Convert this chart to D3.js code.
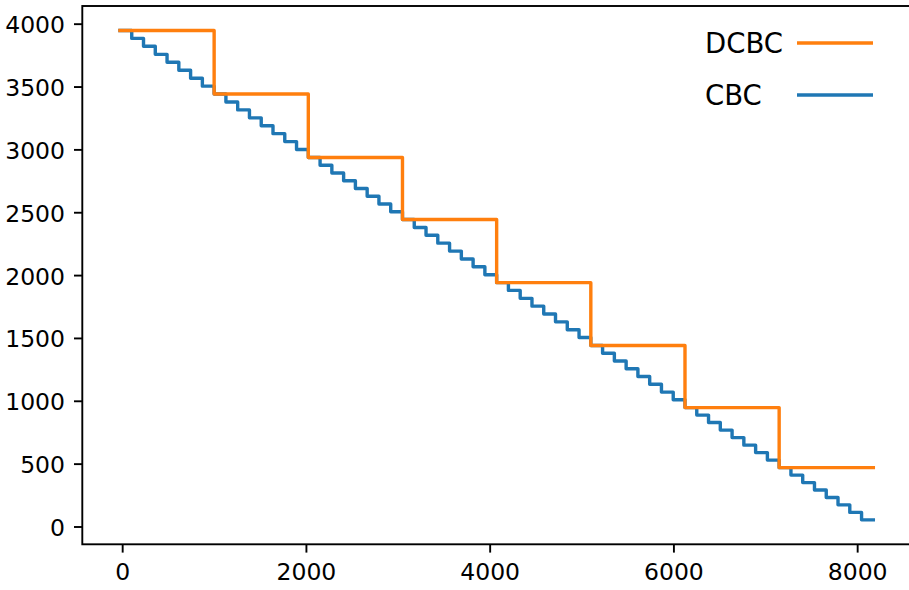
<!DOCTYPE html>
<html>
<head>
<meta charset="utf-8">
<script src="https://cdn.jsdelivr.net/npm/d3@7"></script>
<style>
  html, body { margin: 0; padding: 0; background: #fff; }
  svg { display: block; }
  text { font-family: "DejaVu Sans", sans-serif; fill: #000; }
</style>
</head>
<body>
<svg id="chart" width="909" height="590"></svg>
<script>
// Series names, in legend order
const seriesNames = ["DCBC", "CBC"];

// DCBC: one level per block; block edges on the x axis
const dcbcEdges = [-24, 1001, 2026, 3051, 4076, 5101, 6126, 7151, 8176];
const dcbcValues = [3946, 3440, 2936, 2442, 1940, 1440, 946, 468];

// CBC: eight finer levels inside each DCBC block (64 in total)
const cbcValues = [
  3946, 3883, 3820, 3756, 3693, 3630, 3566, 3503,
  3440, 3377, 3314, 3251, 3188, 3125, 3062, 2999,
  2936, 2874, 2812, 2751, 2689, 2627, 2565, 2504,
  2442, 2379, 2317, 2254, 2191, 2128, 2066, 2003,
  1940, 1878, 1815, 1753, 1690, 1628, 1565, 1503,
  1440, 1378, 1316, 1255, 1193, 1131, 1069, 1008,
  946, 886, 827, 767, 707, 647, 588, 528,
  468, 409, 349, 290, 231, 172, 112, 53
];
const cbcPerBlock = 8;

// Axis ticks
const xTicks = [0, 2000, 4000, 6000, 8000];
const yTicks = [0, 500, 1000, 1500, 2000, 2500, 3000, 3500, 4000];

// Colours
const colors = { DCBC: "#ff7f0e", CBC: "#1f77b4" };

// ---- layout ----
const plot = { left: 82.3, right: 911, top: 6, bottom: 544.3 };
const lineW = 3.4, spineW = 1.9, tickLen = 8.3;

// matplotlib-style 5% padding around the data
const xMin = dcbcEdges[0], xMax = dcbcEdges[dcbcEdges.length - 1];
const yMin = d3.min(cbcValues), yMax = d3.max(dcbcValues.concat(cbcValues));
const xPad = (xMax - xMin) * 0.05, yPad = (yMax - yMin) * 0.05;

const x = d3.scaleLinear().domain([xMin - xPad, xMax + xPad]).range([plot.left, plot.right]);
const y = d3.scaleLinear().domain([yMin - yPad, yMax + yPad]).range([plot.bottom, plot.top]);

const svg = d3.select("#chart");

// step points: each level starts at its left edge, last level held to the end
function stepPoints(edges, values) {
  const pts = values.map((v, i) => [edges[i], v]);
  pts.push([edges[edges.length - 1], values[values.length - 1]]);
  return pts;
}

// CBC edges: each DCBC block split into equal sub-blocks
const cbcEdges = [];
for (let b = 0; b < dcbcValues.length; b++) {
  const sub = d3.scaleLinear().domain([0, cbcPerBlock]).range([dcbcEdges[b], dcbcEdges[b + 1]]);
  d3.range(cbcPerBlock).forEach(k => cbcEdges.push(sub(k)));
}
cbcEdges.push(xMax);

const line = d3.line().x(d => x(d[0])).y(d => y(d[1])).curve(d3.curveStepAfter);

const clip = svg.append("clipPath").attr("id", "plotclip")
  .append("rect").attr("x", plot.left).attr("y", plot.top)
  .attr("width", plot.right - plot.left).attr("height", plot.bottom - plot.top);

const lines = svg.append("g").attr("clip-path", "url(#plotclip)");
lines.append("path")
  .attr("d", line(stepPoints(cbcEdges, cbcValues)))
  .attr("fill", "none").attr("stroke", colors.CBC).attr("stroke-width", lineW)
  .attr("stroke-linejoin", "round").attr("stroke-linecap", "square");
lines.append("path")
  .attr("d", line(stepPoints(dcbcEdges, dcbcValues)))
  .attr("fill", "none").attr("stroke", colors.DCBC).attr("stroke-width", lineW)
  .attr("stroke-linejoin", "round").attr("stroke-linecap", "square");

// ---- axes ----
const xAxis = d3.axisBottom(x).tickValues(xTicks).tickSize(tickLen).tickPadding(9).tickFormat(d3.format("d"));
const yAxis = d3.axisLeft(y).tickValues(yTicks).tickSize(tickLen).tickPadding(9).tickFormat(d3.format("d"));

const gx = svg.append("g").attr("transform", `translate(0,${plot.bottom})`).call(xAxis);
const gy = svg.append("g").attr("transform", `translate(${plot.left},0)`).call(yAxis);

[gx, gy].forEach(g => {
  g.select(".domain").remove();
  g.selectAll(".tick line").attr("stroke", "#000").attr("stroke-width", spineW);
  g.selectAll(".tick text").style("font-family", "DejaVu Sans").attr("font-size", 23.5).attr("fill", "#000");
});
gx.selectAll(".tick text").attr("dy", "0.78em");
gy.selectAll(".tick text").attr("dy", "0.38em");

// spines
svg.append("rect")
  .attr("x", plot.left).attr("y", plot.top)
  .attr("width", plot.right - plot.left).attr("height", plot.bottom - plot.top)
  .attr("fill", "none").attr("stroke", "#000").attr("stroke-width", spineW);

// ---- legend (label first, then handle) ----
const legend = svg.append("g");
const legendRows = [
  { name: seriesNames[0], cy: 43 },
  { name: seriesNames[1], cy: 95 }
];
legendRows.forEach(r => {
  legend.append("text")
    .attr("x", 705).attr("y", r.cy).attr("dy", "0.37em")
    .attr("font-size", 27.5)
    .text(r.name);
  legend.append("line")
    .attr("x1", 797).attr("x2", 873).attr("y1", r.cy).attr("y2", r.cy)
    .attr("stroke", colors[r.name]).attr("stroke-width", lineW);
});
</script>
</body>
</html>
